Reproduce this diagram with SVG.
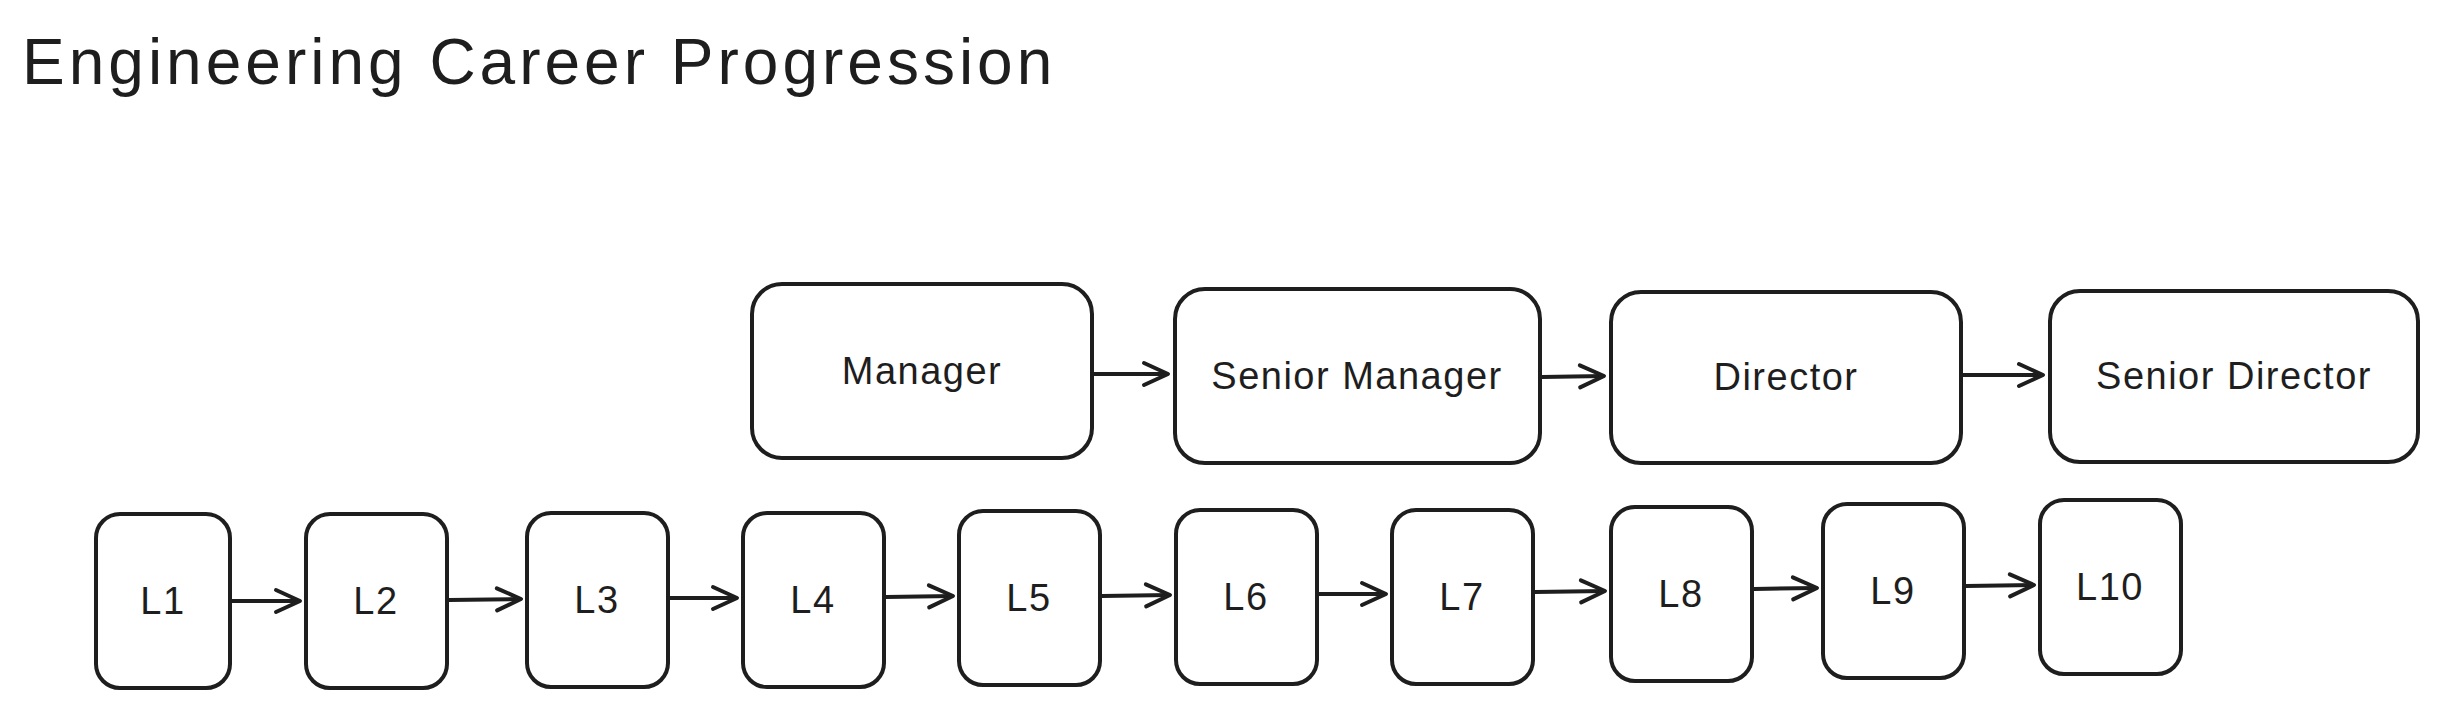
<svg xmlns="http://www.w3.org/2000/svg" width="2437" height="711" viewBox="0 0 2437 711">
<style>
.b{fill:#fff;stroke:#1e1e1e;stroke-width:4}
.t{font-family:"Liberation Sans",sans-serif;font-size:38px;letter-spacing:1.5px;fill:#1e1e1e;text-anchor:middle;dominant-baseline:central}
.c{stroke:#1e1e1e;stroke-width:4;fill:none;marker-end:url(#a)}
</style>
<defs><marker id="a" viewBox="0 0 20 20" refX="18" refY="10" markerWidth="20" markerHeight="20" markerUnits="userSpaceOnUse" orient="auto" overflow="visible"><path d="M-6,-1 L18,10 L-6,21" fill="none" stroke="#1e1e1e" stroke-width="4" stroke-linecap="round" stroke-linejoin="round"/></marker></defs>
<rect width="2437" height="711" fill="#fff"/>
<text x="22" y="84" font-family="Liberation Sans,sans-serif" font-size="64" letter-spacing="4" fill="#1e1e1e">Engineering Career Progression</text>
<g id="manager"><rect class="b" x="752" y="284" width="340" height="174" rx="30"/><text class="t" x="922" y="371">Manager</text></g>
<g id="senior-manager"><rect class="b" x="1175" y="289" width="365" height="174" rx="30"/><text class="t" x="1357" y="376">Senior Manager</text></g>
<g id="director"><rect class="b" x="1611" y="292" width="350" height="171" rx="30"/><text class="t" x="1786" y="377">Director</text></g>
<g id="senior-director"><rect class="b" x="2050" y="291" width="368" height="171" rx="30"/><text class="t" x="2234" y="376">Senior Director</text></g>
<g id="L1"><rect class="b" x="96" y="514" width="134" height="174" rx="24"/><text class="t" x="163" y="601">L1</text></g>
<g id="L2"><rect class="b" x="306" y="514" width="141" height="174" rx="24"/><text class="t" x="376" y="601">L2</text></g>
<g id="L3"><rect class="b" x="527" y="513" width="141" height="174" rx="24"/><text class="t" x="597" y="600">L3</text></g>
<g id="L4"><rect class="b" x="743" y="513" width="141" height="174" rx="24"/><text class="t" x="813" y="600">L4</text></g>
<g id="L5"><rect class="b" x="959" y="511" width="141" height="174" rx="24"/><text class="t" x="1029" y="598">L5</text></g>
<g id="L6"><rect class="b" x="1176" y="510" width="141" height="174" rx="24"/><text class="t" x="1246" y="597">L6</text></g>
<g id="L7"><rect class="b" x="1392" y="510" width="141" height="174" rx="24"/><text class="t" x="1462" y="597">L7</text></g>
<g id="L8"><rect class="b" x="1611" y="507" width="141" height="174" rx="24"/><text class="t" x="1681" y="594">L8</text></g>
<g id="L9"><rect class="b" x="1823" y="504" width="141" height="174" rx="24"/><text class="t" x="1893" y="591">L9</text></g>
<g id="L10"><rect class="b" x="2040" y="500" width="141" height="174" rx="24"/><text class="t" x="2110" y="587">L10</text></g>
<g id="connectors">
<path class="c" d="M1094 374 L1168 374"/>
<path class="c" d="M1542 377 L1604 376"/>
<path class="c" d="M1963 375 L2043 375"/>
<path class="c" d="M232 601 L300 601"/>
<path class="c" d="M449 600 L521 599"/>
<path class="c" d="M670 598 L737 598"/>
<path class="c" d="M886 597 L953 596"/>
<path class="c" d="M1102 596 L1170 595"/>
<path class="c" d="M1319 594 L1386 594"/>
<path class="c" d="M1535 592 L1605 591"/>
<path class="c" d="M1754 589 L1817 588"/>
<path class="c" d="M1966 586 L2034 585"/>
</g>
</svg>
